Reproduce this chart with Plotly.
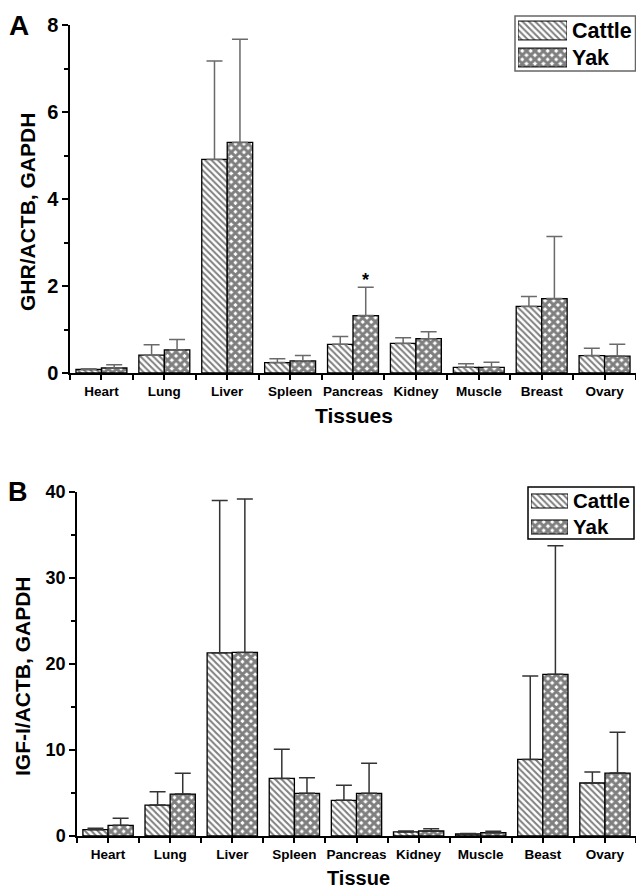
import plotly.graph_objects as go

# ---------------- data ----------------
tissues_a = ["Heart", "Lung", "Liver", "Spleen", "Pancreas", "Kidney", "Muscle", "Breast", "Ovary"]
tissues_b = ["Heart", "Lung", "Liver", "Spleen", "Pancreas", "Kidney", "Muscle", "Beast", "Ovary"]
groups = ["Cattle", "Yak"]

ghr_cattle = [0.08, 0.41, 4.91, 0.24, 0.66, 0.68, 0.13, 1.53, 0.40]
ghr_cattle_sd = [0.02, 0.24, 2.26, 0.09, 0.18, 0.13, 0.08, 0.23, 0.17]
ghr_yak = [0.115, 0.53, 5.30, 0.28, 1.32, 0.79, 0.13, 1.71, 0.39]
ghr_yak_sd = [0.075, 0.24, 2.37, 0.12, 0.65, 0.16, 0.12, 1.43, 0.27]

igf_cattle = [0.74, 3.6, 21.3, 6.7, 4.15, 0.47, 0.23, 8.9, 6.16]
igf_cattle_sd = [0.16, 1.55, 17.7, 3.38, 1.75, 0.11, 0.07, 9.7, 1.28]
igf_yak = [1.24, 4.88, 21.35, 4.96, 4.96, 0.58, 0.39, 18.8, 7.32]
igf_yak_sd = [0.82, 2.41, 17.85, 1.82, 3.49, 0.27, 0.15, 14.95, 4.73]

ghr_ticks = [0, 2, 4, 6, 8]
igf_ticks = [0, 10, 20, 30, 40]
star_index = 4  # Pancreas, Yak significant

# ---------------- styling ----------------
W, H = 636, 891
FONT = "Liberation Sans, Arial, sans-serif"
BARGAP = 0.19

def px_x(p):
    return p / W

def px_y(p):
    return 1 - p / H

def bold(size):
    return dict(family=FONT, size=size, color="black", weight="bold")

PAT = {
    "Cattle": dict(shape="\\", size=4.5, solidity=0.45),
    "Yak": dict(shape="x", size=6, solidity=0.75),
}

fig = go.Figure()

def add_panel(cattle, cattle_sd, yak, yak_sd, xa, ya, errcolor):
    for name, vals, sd in (("Cattle", cattle, cattle_sd), ("Yak", yak, yak_sd)):
        idx = list(range(len(vals)))
        fig.add_trace(go.Bar(
            x=idx, y=vals, name=name, xaxis=xa, yaxis=ya, showlegend=False,
            marker=dict(color="white",
                        pattern=dict(PAT[name], fgcolor="black", bgcolor="white"),
                        line=dict(color="black", width=1.3)),
            error_y=dict(type="data", symmetric=False, array=sd,
                         arrayminus=[0] * len(sd), color=errcolor,
                         thickness=1.5, width=8),
        ))

def add_legend(xa, ya, frac):
    # legend swatches drawn as horizontal pattern bars
    fig.add_trace(go.Bar(
        y=groups, x=[1] * len(groups), orientation="h", xaxis=xa, yaxis=ya,
        showlegend=False, width=[frac] * len(groups), hoverinfo="skip",
        marker=dict(color="white",
                    pattern=dict(shape=[PAT[g]["shape"] for g in groups],
                                 size=[PAT[g]["size"] for g in groups],
                                 solidity=[PAT[g]["solidity"] for g in groups],
                                 fgcolor="black", bgcolor="white"),
                    line=dict(color="black", width=1)),
    ))

add_panel(ghr_cattle, ghr_cattle_sd, ghr_yak, ghr_yak_sd, "x", "y", "#6a6a6a")
add_panel(igf_cattle, igf_cattle_sd, igf_yak, igf_yak_sd, "x2", "y2", "#333333")
add_legend("x3", "y3", 0.70)
add_legend("x4", "y4", 0.54)

def xaxis_cfg(cats, left_px, anchor):
    n = len(cats)
    return dict(
        domain=[px_x(left_px), 1], range=[-0.5, n - 0.5], anchor=anchor,
        tickvals=list(range(n)), ticktext=cats,
        ticks="outside", ticklen=5, tickwidth=1.5, tickcolor="black",
        minor=dict(tickvals=[i - 0.5 for i in range(n + 1)], ticks="outside",
                   ticklen=5, tickwidth=1.5, tickcolor="black"),
        showline=True, linecolor="black", linewidth=1.5,
        showgrid=False, zeroline=False, automargin=False,
        tickfont=bold(13.5), fixedrange=True,
    )

def yaxis_cfg(ticks, dom, fsize, anchor):
    step = ticks[1] - ticks[0]
    return dict(
        domain=dom, range=[ticks[0], ticks[-1]], anchor=anchor,
        tickvals=ticks, ticks="outside", ticklen=6, tickwidth=1.5, tickcolor="black",
        minor=dict(tickvals=[t + step / 2 for t in ticks[:-1]], ticks="outside",
                   ticklen=4, tickwidth=1.5, tickcolor="black"),
        showline=True, linecolor="black", linewidth=1.5,
        showgrid=False, zeroline=False, automargin=False,
        tickfont=bold(fsize), fixedrange=True,
    )

def leg_x(x0, x1, anchor):
    return dict(domain=[px_x(x0), px_x(x1)], range=[0, 1], anchor=anchor,
                visible=False, fixedrange=True, automargin=False)

def leg_y(y_top, y_bot, anchor, fsize):
    return dict(domain=[px_y(y_bot), px_y(y_top)], range=[len(groups) - 0.5, -0.5],
                anchor=anchor, side="right", showline=False, showgrid=False,
                zeroline=False, ticks="", ticklabelstandoff=4,
                tickfont=bold(fsize), fixedrange=True, automargin=False)

fig.update_layout(
    width=W, height=H, autosize=False,
    margin=dict(l=0, r=0, t=0, b=0, pad=0),
    paper_bgcolor="white", plot_bgcolor="rgba(0,0,0,0)",
    barmode="group", bargap=BARGAP, bargroupgap=0,
    showlegend=False,
    xaxis=xaxis_cfg(tissues_a, 70, "y"),
    yaxis=yaxis_cfg(ghr_ticks, [px_y(373), px_y(25)], 20, "x"),
    xaxis2=xaxis_cfg(tissues_b, 77, "y2"),
    yaxis2=yaxis_cfg(igf_ticks, [px_y(836), px_y(492)], 18, "x2"),
    xaxis3=leg_x(518, 567, "y3"),
    yaxis3=leg_y(17, 71, "x3", 21.5),
    xaxis4=leg_x(531, 568, "y4"),
    yaxis4=leg_y(488, 540, "x4", 20.5),
)

# legend frames
fig.add_shape(type="rect", xref="paper", yref="paper", layer="below",
              x0=px_x(515), x1=px_x(635.5), y0=px_y(71), y1=px_y(16),
              line=dict(color="#666666", width=1.5), fillcolor="white")
fig.add_shape(type="rect", xref="paper", yref="paper", layer="below",
              x0=px_x(528), x1=px_x(634), y0=px_y(539), y1=px_y(487),
              line=dict(color="black", width=1.5), fillcolor="white")

annos = [
    dict(text="A", x=px_x(19), y=px_y(26), font=bold(28)),
    dict(text="B", x=px_x(18), y=px_y(492), font=bold(27)),
    dict(text="GHR/ACTB, GAPDH", x=px_x(27), y=px_y(212), textangle=-90, font=bold(21)),
    dict(text="IGF-I/ACTB, GAPDH", x=px_x(22), y=px_y(676), textangle=-90, font=bold(21)),
    dict(text="Tissues", x=px_x(354), y=px_y(415), font=bold(21)),
    dict(text="Tissue", x=px_x(358), y=px_y(878), font=bold(20)),
]
for a in annos:
    fig.add_annotation(xref="paper", yref="paper", xanchor="center", yanchor="middle",
                       showarrow=False, **a)

# significance star above the Yak pancreas error bar
fig.add_annotation(xref="x", yref="y", x=star_index + (1 - BARGAP) / 4,
                   y=ghr_yak[star_index] + ghr_yak_sd[star_index],
                   text="*", showarrow=False, yanchor="bottom", yshift=-5,
                   font=bold(18))

fig.write_html("out.html", config={"displayModeBar": False},
               post_script="document.body.style.margin='0';")
